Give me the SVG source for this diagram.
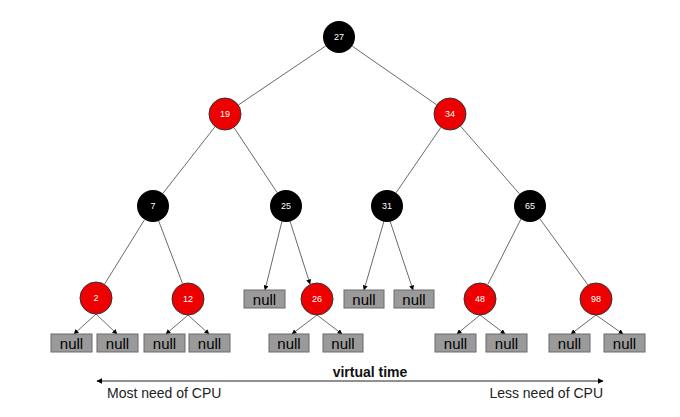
<svg xmlns="http://www.w3.org/2000/svg" width="680" height="417" viewBox="0 0 680 417">
<style>
.b{fill:#000;}
.r{fill:#ee0000;stroke:#333;stroke-width:1;}
.n{fill:#ffffff;font-family:"Liberation Sans",Arial,sans-serif;font-size:9px;text-anchor:middle;}
.nb{fill:#9a9a9a;stroke:#6a6a6a;stroke-width:1;}
.nt{fill:#000;font-family:"Liberation Sans",Arial,sans-serif;font-size:15px;text-anchor:middle;}
.e{stroke:#444;stroke-width:0.8;fill:none;}
.a{stroke:#444;stroke-width:0.8;fill:none;marker-end:url(#ah);}
.lbl{font-family:"Liberation Sans",Arial,sans-serif;font-size:14px;fill:#222;}
</style>
<defs>
<marker id="ah" viewBox="0 0 10 10" refX="9" refY="5" markerWidth="5" markerHeight="5" orient="auto-start-reverse" markerUnits="userSpaceOnUse"><path d="M0,0 L10,5 L0,10 z" fill="#000"/></marker>
<marker id="ah2" viewBox="0 0 10 10" refX="9" refY="5" markerWidth="6" markerHeight="6" orient="auto-start-reverse" markerUnits="userSpaceOnUse"><path d="M0,0 L10,5 L0,10 z" fill="#000"/></marker>
</defs>
<rect width="680" height="417" fill="#fff"/>
<g id="connectors">
<line class="e" x1="325.7" y1="46" x2="238.3" y2="105"/>
<line class="e" x1="352.2" y1="46.1" x2="436.8" y2="104.9"/>
<line class="e" x1="215.1" y1="126.6" x2="162.9" y2="193.4"/>
<line class="e" x1="233.8" y1="127.3" x2="277.2" y2="192.7"/>
<line class="e" x1="441" y1="127.2" x2="396" y2="192.8"/>
<line class="e" x1="460.5" y1="126.1" x2="519.5" y2="193.9"/>
<line class="e" x1="144.6" y1="219.6" x2="104.4" y2="284.4"/>
<line class="e" x1="158.7" y1="221" x2="182.3" y2="283"/>
<line class="a" x1="282" y1="221" x2="265" y2="290"/>
<line class="a" x1="290" y1="221" x2="310" y2="284"/>
<line class="a" x1="384" y1="221" x2="364" y2="290"/>
<line class="a" x1="390" y1="221" x2="413" y2="290"/>
<line class="e" x1="521" y1="219" x2="488" y2="284"/>
<line class="e" x1="540" y1="219" x2="588" y2="285"/>
<line class="a" x1="96" y1="314" x2="74" y2="334"/>
<line class="a" x1="96" y1="314" x2="117" y2="334"/>
<line class="a" x1="188" y1="315" x2="166" y2="334"/>
<line class="a" x1="188" y1="315" x2="209" y2="334"/>
<line class="a" x1="317" y1="315" x2="292" y2="334"/>
<line class="a" x1="317" y1="315" x2="342" y2="334"/>
<line class="a" x1="480" y1="315" x2="457" y2="334"/>
<line class="a" x1="480" y1="315" x2="505" y2="334"/>
<line class="a" x1="596" y1="315" x2="571" y2="334"/>
<line class="a" x1="596" y1="315" x2="623" y2="334"/>
</g>
<g id="n27"><circle class="b" cx="339" cy="37" r="16"/><text class="n" x="339" y="40">27</text></g>
<g id="n19"><circle class="r" cx="225" cy="114" r="16"/><text class="n" x="225" y="117">19</text></g>
<g id="n34"><circle class="r" cx="450" cy="114" r="16"/><text class="n" x="450" y="117">34</text></g>
<g id="n7"><circle class="b" cx="153" cy="206" r="16"/><text class="n" x="153" y="209">7</text></g>
<g id="n25"><circle class="b" cx="286" cy="206" r="16"/><text class="n" x="286" y="209">25</text></g>
<g id="n31"><circle class="b" cx="387" cy="206" r="16"/><text class="n" x="387" y="209">31</text></g>
<g id="n65"><circle class="b" cx="530" cy="206" r="16"/><text class="n" x="530" y="209">65</text></g>
<g id="n2"><circle class="r" cx="96" cy="298" r="16"/><text class="n" x="96" y="301">2</text></g>
<g id="n12"><circle class="r" cx="188" cy="299" r="16"/><text class="n" x="188" y="302">12</text></g>
<g id="n26"><circle class="r" cx="317" cy="299" r="16"/><text class="n" x="317" y="302">26</text></g>
<g id="n48"><circle class="r" cx="480" cy="299" r="16"/><text class="n" x="480" y="302">48</text></g>
<g id="n98"><circle class="r" cx="596" cy="299" r="16"/><text class="n" x="596" y="302">98</text></g>
<g id="null25l"><rect class="nb" x="244" y="290" width="41" height="18"/><text class="nt" x="264.5" y="305">null</text></g>
<g id="null31l"><rect class="nb" x="344" y="290" width="40" height="18"/><text class="nt" x="364" y="305">null</text></g>
<g id="null31r"><rect class="nb" x="394" y="290" width="40" height="18"/><text class="nt" x="414" y="305">null</text></g>
<g id="null2l"><rect class="nb" x="51" y="334" width="41" height="18"/><text class="nt" x="71.5" y="349">null</text></g>
<g id="null2r"><rect class="nb" x="97" y="334" width="41" height="18"/><text class="nt" x="117.5" y="349">null</text></g>
<g id="null12l"><rect class="nb" x="144" y="334" width="41" height="18"/><text class="nt" x="164.5" y="349">null</text></g>
<g id="null12r"><rect class="nb" x="189" y="334" width="41" height="18"/><text class="nt" x="209.5" y="349">null</text></g>
<g id="null26l"><rect class="nb" x="269" y="334" width="40" height="18"/><text class="nt" x="289" y="349">null</text></g>
<g id="null26r"><rect class="nb" x="323" y="334" width="40" height="18"/><text class="nt" x="343" y="349">null</text></g>
<g id="null48l"><rect class="nb" x="435" y="334" width="41" height="18"/><text class="nt" x="455.5" y="349">null</text></g>
<g id="null48r"><rect class="nb" x="486" y="334" width="41" height="18"/><text class="nt" x="506.5" y="349">null</text></g>
<g id="null98l"><rect class="nb" x="549" y="334" width="41" height="18"/><text class="nt" x="569.5" y="349">null</text></g>
<g id="null98r"><rect class="nb" x="604" y="334" width="41" height="18"/><text class="nt" x="624.5" y="349">null</text></g>
<g id="timeline">
<line x1="97" y1="381" x2="603" y2="381" stroke="#222" stroke-width="1" marker-start="url(#ah2)" marker-end="url(#ah2)"/>
<text x="370" y="377" font-family="Liberation Sans,Arial,sans-serif" font-size="14" font-weight="bold" text-anchor="middle" fill="#111">virtual time</text>
<text class="lbl" x="107" y="398">Most need of CPU</text>
<text class="lbl" x="603" y="398" text-anchor="end">Less need of CPU</text>
</g>
</svg>
